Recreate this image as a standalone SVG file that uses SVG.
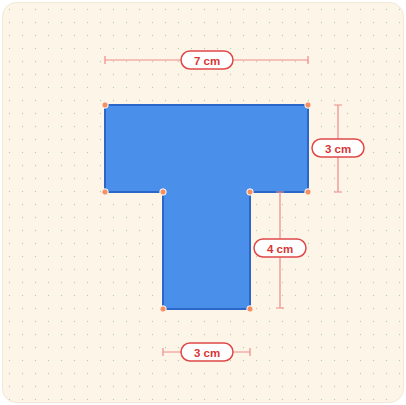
<svg xmlns="http://www.w3.org/2000/svg" width="406" height="405" viewBox="0 0 406 405">
<defs>
<pattern id="dots" x="3" y="3" width="13" height="13" patternUnits="userSpaceOnUse">
<circle cx="6.5" cy="6.5" r="0.7" fill="#b9cfb5"/>
</pattern>
<style>
.dim{stroke:#ef8a8a;stroke-width:1.2;fill:none}
.pill{fill:#ffffff;stroke:#e04848;stroke-width:1.5}
.lbl{font-family:"Liberation Sans",Arial,sans-serif;font-size:11.5px;font-weight:bold;fill:#d93636;text-anchor:middle;dominant-baseline:central}
.v{fill:#f79060;stroke:#ffffff;stroke-width:1}
</style>
</defs>
<rect x="2.5" y="2.5" width="401" height="400" rx="14" fill="#fdf6e8" stroke="#f1e8d8" stroke-width="1"/>
<rect x="2.5" y="2.5" width="401" height="400" rx="14" fill="url(#dots)"/>
<g id="shape">
<polygon points="105,105 308,105 308,192 250,192 250,309 163,309 163,192 105,192" fill="#4a90ea" stroke="#2a67c9" stroke-width="2" stroke-linejoin="round"/>
<circle class="v" cx="105" cy="105" r="3.2"/>
<circle class="v" cx="308" cy="105" r="3.2"/>
<circle class="v" cx="308" cy="192" r="3.2"/>
<circle class="v" cx="250" cy="192" r="3.2"/>
<circle class="v" cx="250" cy="309" r="3.2"/>
<circle class="v" cx="163" cy="309" r="3.2"/>
<circle class="v" cx="163" cy="192" r="3.2"/>
<circle class="v" cx="105" cy="192" r="3.2"/>
</g>
<g id="connectors">
<path class="dim" d="M105,60 H308 M105,56 V64 M308,56 V64"/>
<path class="dim" d="M338,105 V192 M334,105 H342 M334,192 H342"/>
<path class="dim" d="M280,192 V308 M276,192 H284 M276,308 H284"/>
<path class="dim" d="M163,352 H250 M163,348 V356 M250,348 V356"/>
</g>
<g id="label-top">
<rect class="pill" x="181" y="51" width="52" height="18" rx="9"/>
<text class="lbl" x="207" y="60.5">7 cm</text>
</g>
<g id="label-right">
<rect class="pill" x="312" y="139" width="52" height="18" rx="9"/>
<text class="lbl" x="338" y="148.5">3 cm</text>
</g>
<g id="label-stem">
<rect class="pill" x="254" y="239" width="52" height="18" rx="9"/>
<text class="lbl" x="280" y="248.5">4 cm</text>
</g>
<g id="label-bottom">
<rect class="pill" x="181" y="343" width="52" height="18" rx="9"/>
<text class="lbl" x="207" y="352.5">3 cm</text>
</g>
</svg>
